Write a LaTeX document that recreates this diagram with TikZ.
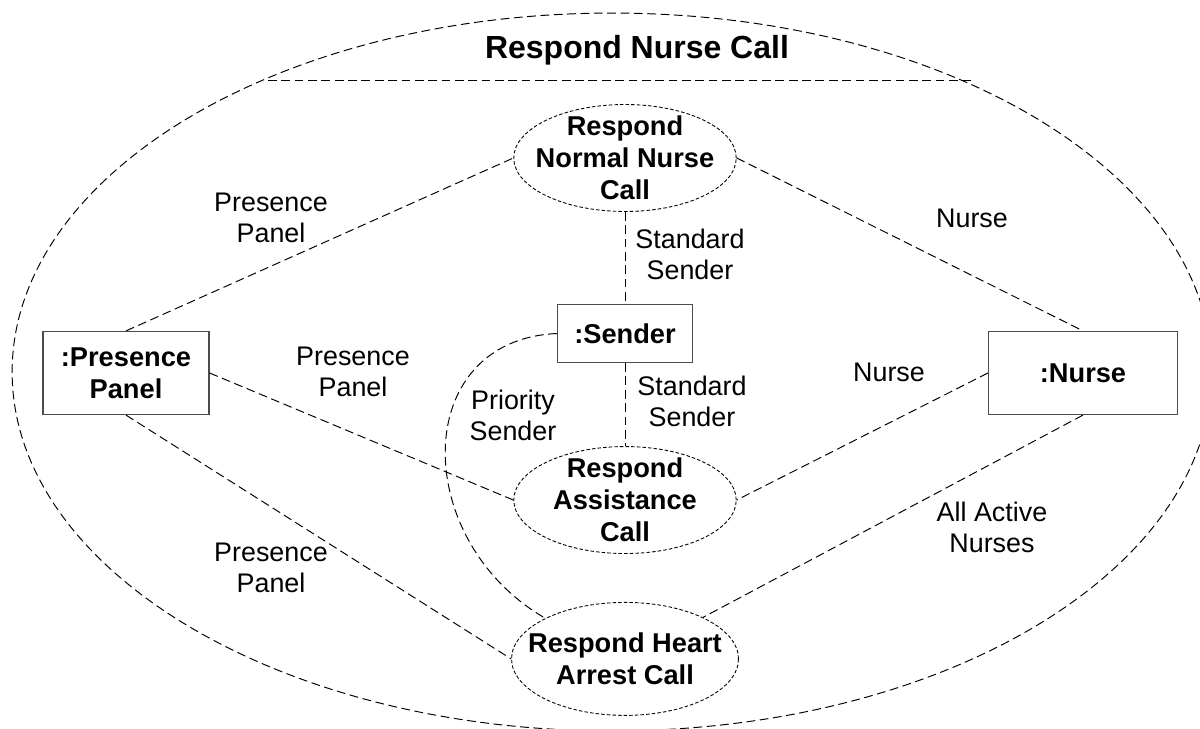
\documentclass[tikz,border=0pt]{standalone}
\usepackage{fontspec}
\setmainfont{Liberation Sans}
\usetikzlibrary{shapes.geometric,positioning}

\begin{document}
\begin{tikzpicture}[x=0.02cm, y=0.02cm,
  obj/.style={rectangle, draw=black!70, line width=0.7pt, inner sep=0pt, font=\fontsize{15.5}{18.2}\selectfont\bfseries, align=center},
  uc/.style={ellipse, draw, line width=0.5pt, dash pattern=on 2pt off 1.2pt, inner sep=0pt, minimum width=4.45cm, minimum height=2.14cm},
  uctext/.style={font=\fontsize{15.5}{18.2}\selectfont\bfseries, align=center, inner sep=0pt},
  lbl/.style={font=\fontsize{15.3}{17.6}\selectfont, align=center, inner sep=0pt},
  link/.style={dash pattern=on 5pt off 2.6pt, line width=0.55pt},
  frame/.style={ellipse, draw, link, inner sep=0pt, minimum width=24cm, minimum height=14.36cm}
]
\useasboundingbox (0,0) rectangle (1200,-729);
\clip (0,0) rectangle (1200,-729);

% collaboration boundary
\node[frame] (collab) at (612,-372) {};
\node[font=\fontsize{18.2}{22}\selectfont\bfseries] (title) at (637,-50) {Respond Nurse Call};
\coordinate (sepL) at (268,-80);
\coordinate (sepR) at (972,-80);
\draw[link] (sepL) -- (sepR);

% use cases and objects
\node[uc, label={[uctext]center:{Respond\\Normal Nurse\\Call}}] (normal) at (625,-158) {};
\node[obj, minimum width=2.7cm, minimum height=1.16cm, below=1.84cm of normal] (sender) {:Sender};
\node[uc, below=1.66cm of sender, label={[uctext]center:{Respond\\Assistance\\Call}}] (assist) {};
\node[uc, minimum width=4.54cm, minimum height=2.26cm, below=0.96cm of assist, label={[uctext]center:{Respond Heart\\Arrest Call}}] (heart) {};
\node[obj, minimum width=3.32cm, minimum height=1.66cm] (panel) at (126,-373) {:Presence\\Panel};
\node[obj, minimum width=3.78cm, minimum height=1.66cm] (nurse) at (1083,-373) {:Nurse};

% links
\draw[link] (panel.north) -- (normal.west);
\draw[link] (normal.east) -- (nurse.north);
\draw[link] (normal.south) -- (sender.north);
\draw[link] (sender.south) -- (assist.north);
\draw[link] (panel.east) -- (assist.west);
\draw[link] (panel.south) -- (heart.west);
\draw[link] (nurse.west) -- (assist.east);
\draw[link] (nurse.south) -- (heart);
\draw[link] (sender.west) .. controls (410,-340) and (410,-540) .. (heart.153);

% role names
\node[lbl] (lblPanelTop) at (271,-218) {Presence\\Panel};
\node[lbl] (lblNurseTop) at (972,-218) {Nurse};
\node[lbl] (lblStdTop) at (690,-254) {Standard\\Sender};
\node[lbl] (lblPanelMid) at (353,-372) {Presence\\Panel};
\node[lbl] (lblPriority) at (513,-415) {Priority\\Sender};
\node[lbl] (lblStdLow) at (692,-401) {Standard\\Sender};
\node[lbl] (lblNurseMid) at (889,-372) {Nurse};
\node[lbl] (lblPanelLow) at (271,-568) {Presence\\Panel};
\node[lbl] (lblAllNurses) at (992,-527) {All Active\\Nurses};
\end{tikzpicture}
\end{document}
